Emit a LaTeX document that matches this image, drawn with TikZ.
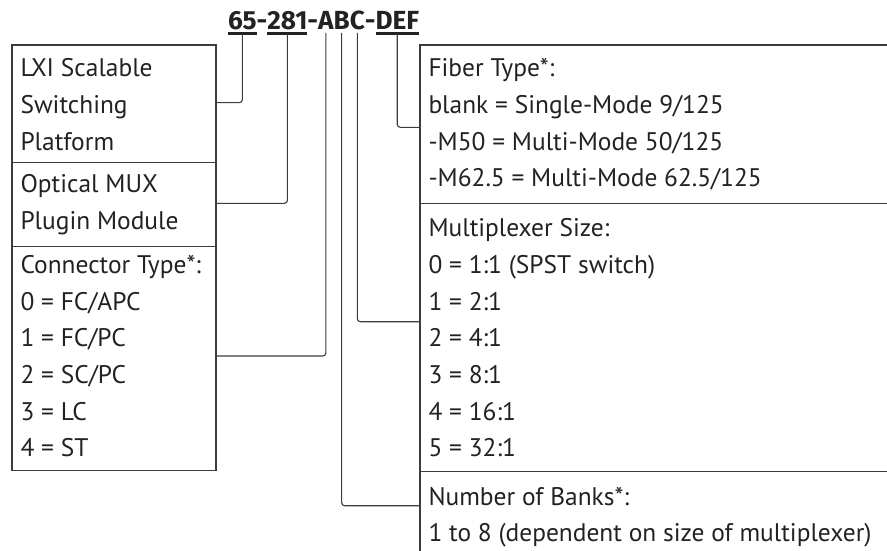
\documentclass[tikz,border=0pt]{standalone}
\usepackage{fontspec}
\setmainfont{PT Sans}
\newfontfamily\titlefont{Fira Sans}
\usetikzlibrary{calc}
\definecolor{lc}{HTML}{3C3C3C}
\definecolor{tc}{HTML}{222222}
\newlength\refw
\newlength\refv
\begin{document}
\settowidth\refw{\fontsize{10pt}{12pt}\selectfont 1 to 8 (dependent on size of multiplexer)}%
\settowidth\refv{\fontsize{10pt}{12pt}\selectfont\titlefont\bfseries 65-281-ABC-DEF}%
\pgfmathsetmacro\bsz{10*443/\refw}%
\pgfmathsetmacro\tsz{10*188/\refv}%
\begin{tikzpicture}[x=1pt,y=-1pt]
\tikzset{
  box/.style={draw=lc, line width=1.1pt, inner sep=0pt, outer sep=0pt, anchor=north west, minimum width=204pt},
  rbox/.style={inner sep=0pt, outer sep=0pt, anchor=north west, minimum width=467pt},
  boxline/.style={draw=lc, line width=1.1pt},
  txt/.style={anchor=base west, inner sep=0pt, outer sep=0pt, text=tc, font=\fontsize{\bsz pt}{\bsz pt}\selectfont},
  ttl/.style={anchor=base west, inner sep=0pt, outer sep=0pt, text=tc, font=\fontsize{\tsz pt}{\tsz pt}\selectfont\titlefont\bfseries},
  uline/.style={draw=tc, line width=2.4pt},
  conn/.style={draw=lc, line width=1.1pt, rounded corners=3pt}
}
\useasboundingbox (0,0) rectangle (887,551);

% title
\node[ttl] (t65) at (228,30) {65};
\node[ttl] (td1) at (t65.base east) {-};
\node[ttl] (t281) at (td1.base east) {281};
\node[ttl] (td2) at (t281.base east) {-};
\node[ttl] (tA) at (td2.base east) {A};
\node[ttl] (tB) at (tA.base east) {B};
\node[ttl] (tC) at (tB.base east) {C};
\node[ttl] (td3) at (tC.base east) {-};
\node[ttl] (tDEF) at (td3.base east) {DEF};
\foreach \n in {t65,t281,tDEF}
  \draw[uline] ([yshift=-3.6pt]\n.base west) -- ([yshift=-3.6pt]\n.base east);

% left boxes
\node[box, minimum height=117.7pt] (lxi) at (12,45) {};
\node[box, minimum height=84pt] (mux) at (12,162.7) {};
\node[box, minimum height=223.7pt] (ctype) at (12,246.7) {};

% right boxes
\node[rbox, minimum height=158.3pt] (fiber) at (420,45) {};
\node[rbox, minimum height=268.4pt] (msize) at (420,203.3) {};
\node[rbox, minimum height=79.3pt] (banks) at (420,471.7) {};
\draw[boxline] (fiber.north east) -- (fiber.north west) -- (banks.south west);
\draw[boxline] (msize.north west) -- (msize.north east);
\draw[boxline] (banks.north west) -- (banks.north east);

% left texts
\node[txt] (l1) at (20.5,76.7) {LXI Scalable};
\node[txt] (l2) at (20.5,113.3) {Switching};
\node[txt] (l3) at (20.5,150) {Platform};
\node[txt] (l4) at (20.5,192) {Optical MUX};
\node[txt] (l5) at (20.5,229) {Plugin Module};
\node[txt] (l6) at (20.5,273.3) {Connector Type*:};
\node[txt] (l7) at (20.5,310) {0 = FC/APC};
\node[txt] (l8) at (20.5,346.7) {1 = FC/PC};
\node[txt] (l9) at (20.5,383.3) {2 = SC/PC};
\node[txt] (l10) at (20.5,420) {3 = LC};
\node[txt] (l11) at (20.5,456.7) {4 = ST};

% right texts
\node[txt] (r1) at (428.5,76.7) {Fiber Type*:};
\node[txt] (r2) at (428.5,113.3) {blank = Single-Mode 9/125};
\node[txt] (r3) at (428.5,150) {-M50 = Multi-Mode 50/125};
\node[txt] (r4) at (428.5,186.7) {-M62.5 = Multi-Mode 62.5/125};
\node[txt] (r5) at (428.5,236.7) {Multiplexer Size:};
\node[txt] (r6) at (428.5,273.3) {0 = 1:1 (SPST switch)};
\node[txt] (r7) at (428.5,310) {1 = 2:1};
\node[txt] (r8) at (428.5,346.7) {2 = 4:1};
\node[txt] (r9) at (428.5,383.3) {3 = 8:1};
\node[txt] (r10) at (428.5,420) {4 = 16:1};
\node[txt] (r11) at (428.5,456.7) {5 = 32:1};
\node[txt] (r12) at (428.5,505) {Number of Banks*:};
\node[txt] (r13) at (428.5,541.7) {1 to 8 (dependent on size of multiplexer)};

% connector entry points
\coordinate (in65) at (216,102.7);
\coordinate (in281) at (216,203.3);
\coordinate (inA) at (216,356);
\coordinate (inB) at (420,505.7);
\coordinate (inC) at (420,321.7);
\coordinate (inDEF) at (420,127.3);

\draw[conn] ([yshift=-3.6pt]t65.base) |- (in65);
\draw[conn] ([yshift=-3.6pt]t281.base) |- (in281);
\draw[conn] ([yshift=-3pt]tA.base) |- (inA);
\draw[conn] ([yshift=-3pt]tB.base) |- (inB);
\draw[conn] ([yshift=-3pt]tC.base) |- (inC);
\draw[conn] ([yshift=-3.6pt]tDEF.base) |- (inDEF);
\end{tikzpicture}
\end{document}
